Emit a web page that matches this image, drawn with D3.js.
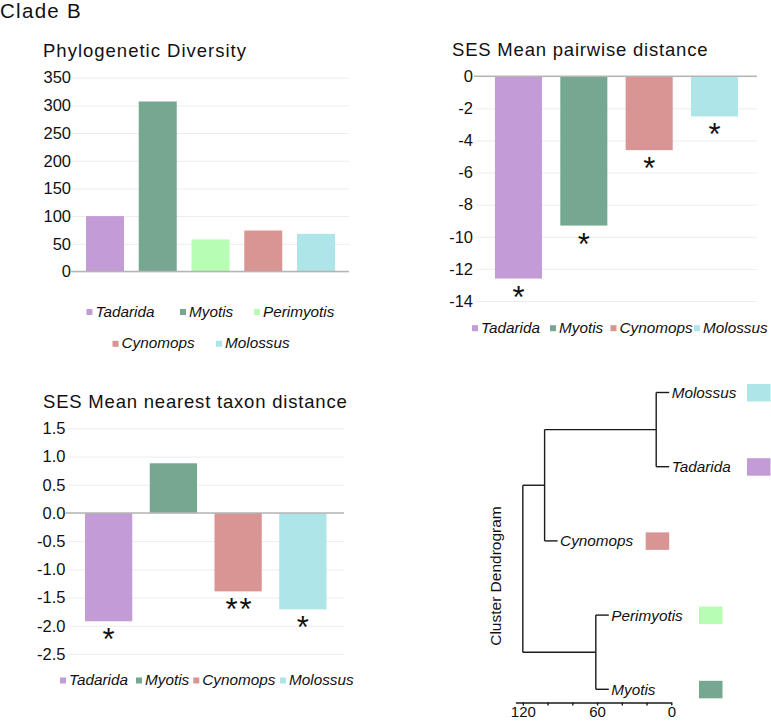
<!DOCTYPE html>
<html>
<head>
<meta charset="utf-8">
<script src="https://cdn.jsdelivr.net/npm/d3@7"></script>
<style>
  html, body { margin: 0; padding: 0; background: #fff; }
  svg { display: block; }
</style>
</head>
<body>
<svg id="chart" width="771" height="722"></svg>
<script>
// ---------------- DATA ----------------
const genera = ["Tadarida", "Myotis", "Perimyotis", "Cynomops", "Molossus"];
const generaColors = ["#c39bd6", "#76a891", "#b7fdb3", "#d99594", "#ade5e9"];

// Phylogenetic Diversity
const pdCategories = ["Tadarida", "Myotis", "Perimyotis", "Cynomops", "Molossus"];
const pdValues = [100, 307, 58, 74, 68];
const pdTicks = [0, 50, 100, 150, 200, 250, 300, 350];
const pdTickLabels = ["0", "50", "100", "150", "200", "250", "300", "350"];

// SES Mean pairwise distance
const mpdCategories = ["Tadarida", "Myotis", "Cynomops", "Molossus"];
const mpdValues = [-12.6, -9.3, -4.6, -2.5];
const mpdSig = ["*", "*", "*", "*"];
const mpdTicks = [0, -2, -4, -6, -8, -10, -12, -14];
const mpdTickLabels = ["0", "-2", "-4", "-6", "-8", "-10", "-12", "-14"];

// SES Mean nearest taxon distance
const mntdCategories = ["Tadarida", "Myotis", "Cynomops", "Molossus"];
const mntdValues = [-1.92, 0.88, -1.39, -1.71];
const mntdSig = ["*", "", "**", "*"];
const mntdTicks = [1.5, 1.0, 0.5, 0.0, -0.5, -1.0, -1.5, -2.0, -2.5];
const mntdTickLabels = ["1.5", "1.0", "0.5", "0.0", "-0.5", "-1.0", "-1.5", "-2.0", "-2.5"];

// Cluster dendrogram (merge table, like R's hclust)
const dendroLeaves = ["Molossus", "Tadarida", "Cynomops", "Perimyotis", "Myotis"];
const mergeLeft = ["Molossus", "Perimyotis", "n1", "n3"];
const mergeRight = ["Tadarida", "Myotis", "Cynomops", "n2"];
const mergeHeights = [12.2, 61, 102.4, 120];
const dendroTicks = [0, 20, 40, 60, 80, 100, 120];
const dendroTickLabels = ["0", "", "", "60", "", "", "120"];

// ---------------- DRAWING ----------------
const FONT = "'Liberation Sans', Arial, Helvetica, sans-serif";
const TXT = "#111";
const color = d3.scaleOrdinal().domain(genera).range(generaColors);
const svg = d3.select("#chart").style("font-family", FONT);

svg.append("text").attr("x", 0).attr("y", 17.5)
  .attr("font-size", 20.5).attr("letter-spacing", "1.3px").attr("fill", TXT)
  .text("Clade B");

function barChart(o) {
  const g = svg.append("g");
  const x = d3.scaleBand().domain(o.cats).range(o.xRange)
    .paddingInner(o.pi).paddingOuter(o.po);
  const y = d3.scaleLinear().domain(o.yDomain).range(o.yRange);

  g.append("text").attr("x", o.titleX).attr("y", o.titleY)
    .attr("font-size", 18.5).attr("letter-spacing", o.ls + "px").attr("fill", TXT)
    .text(o.title);

  const ax = g.append("g").attr("transform", `translate(${o.xRange[0]},0)`)
    .call(d3.axisLeft(y).tickValues(o.ticks)
      .tickFormat((d, i) => o.tickLabels[i])
      .tickSize(-(o.xRange[1] - o.xRange[0])).tickPadding(o.pad));
  ax.select(".domain").remove();
  ax.selectAll("line").attr("stroke", "#ececec").attr("stroke-width", 1);
  ax.selectAll("text").attr("font-size", 16.5).attr("fill", TXT)
    .attr("font-family", FONT);

  g.selectAll("rect.bar").data(o.vals).join("rect").attr("class", "bar")
    .attr("x", (d, i) => x(o.cats[i]))
    .attr("width", x.bandwidth())
    .attr("y", d => Math.min(y(d), y(0)))
    .attr("height", d => Math.abs(y(d) - y(0)))
    .attr("fill", (d, i) => color(o.cats[i]));

  g.append("line").attr("x1", o.xRange[0] - 2).attr("x2", o.xRange[1])
    .attr("y1", y(0)).attr("y2", y(0))
    .attr("stroke", "#b5b5b5").attr("stroke-width", 1.6);

  if (o.sig) {
    g.selectAll("text.sig").data(o.vals).join("text").attr("class", "sig")
      .attr("x", (d, i) => x(o.cats[i]) + x.bandwidth() / 2 + (o.sig[i].length > 1 ? 1.5 : 0))
      .attr("y", d => y(d) + 29)
      .attr("text-anchor", "middle").attr("font-size", 31)
      .attr("letter-spacing", (d, i) => o.sig[i].length > 1 ? "2px" : "0px")
      .attr("fill", "#111")
      .text((d, i) => o.sig[i]);
  }

  // legend
  o.legend.forEach(row => {
    row.items.forEach((name, j) => {
      const lx = row.xs[j];
      g.append("rect").attr("x", lx).attr("y", row.y - 7.5).attr("width", 6).attr("height", 6)
        .attr("fill", color(name));
      g.append("text").attr("x", lx + 9).attr("y", row.y)
        .attr("font-size", 15.3).attr("font-style", "italic").attr("fill", TXT)
        .text(name);
    });
  });
}

barChart({
  cats: pdCategories, vals: pdValues,
  xRange: [72, 349], pi: 0.28, po: 0.265,
  yDomain: [0, 350], yRange: [271.5, 77.7],
  ticks: pdTicks, tickLabels: pdTickLabels, pad: 1,
  title: "Phylogenetic Diversity", titleX: 43, titleY: 56.5, ls: 1.0,
  legend: [
    { y: 316.5, items: ["Tadarida", "Myotis", "Perimyotis"], xs: [86.5, 180, 254] },
    { y: 348.3, items: ["Cynomops", "Molossus"], xs: [112.5, 216] }
  ]
});

barChart({
  cats: mpdCategories, vals: mpdValues, sig: mpdSig,
  xRange: [476, 757], pi: 0.28, po: 0.29,
  yDomain: [-14, 0], yRange: [301, 76.3],
  ticks: mpdTicks, tickLabels: mpdTickLabels, pad: 3,
  title: "SES Mean pairwise distance", titleX: 452, titleY: 56, ls: 0.8,
  legend: [
    { y: 332.7, items: mpdCategories, xs: [472, 550, 610.5, 694] }
  ]
});

barChart({
  cats: mntdCategories, vals: mntdValues, sig: mntdSig,
  xRange: [67.5, 344], pi: 0.27, po: 0.27,
  yDomain: [-2.5, 1.5], yRange: [654, 428.3],
  ticks: mntdTicks, tickLabels: mntdTickLabels, pad: 2,
  title: "SES Mean nearest taxon distance", titleX: 43, titleY: 408, ls: 0.8,
  legend: [
    { y: 685, items: mntdCategories, xs: [60, 136, 193.3, 280] }
  ]
});

// ---------------- DENDROGRAM ----------------
(function () {
  const g = svg.append("g");
  const x = d3.scaleLinear().domain([0, 126]).range([671.3, 515.4]);
  const yLeaf = d3.scalePoint().domain(dendroLeaves).range([392.5, 689.3]);
  const hang = 10.5;
  const boxX = { "Molossus": 747, "Tadarida": 747, "Cynomops": 645.7, "Perimyotis": 699, "Myotis": 699 };

  const nodes = {};
  dendroLeaves.forEach(n => nodes[n] = { name: n, leaf: true, y: yLeaf(n) });
  mergeHeights.forEach((h, i) => {
    const a = nodes[mergeLeft[i]], b = nodes[mergeRight[i]];
    const id = "n" + (i + 1);
    nodes[id] = { name: id, leaf: false, h: h, y: (a.y + b.y) / 2, kids: [a, b] };
  });

  const lineStyle = s => s.attr("stroke", "#1a1a1a").attr("stroke-width", 1.4).attr("fill", "none");
  Object.values(nodes).filter(n => !n.leaf).forEach(n => {
    const px = x(n.h);
    g.append("line").attr("x1", px).attr("x2", px)
      .attr("y1", n.kids[0].y).attr("y2", n.kids[1].y).call(lineStyle);
    n.kids.forEach(k => {
      const kh = k.leaf ? n.h - hang : k.h;
      k.endX = x(kh);
      g.append("line").attr("x1", px).attr("x2", x(kh))
        .attr("y1", k.y).attr("y2", k.y).call(lineStyle);
    });
  });

  dendroLeaves.forEach(name => {
    const n = nodes[name];
    g.append("text").attr("x", n.endX + 2.5).attr("y", n.y + 5.5)
      .attr("font-size", 15.3).attr("font-style", "italic").attr("fill", TXT)
      .text(name);
    g.append("rect").attr("x", boxX[name]).attr("y", n.y - 8.5)
      .attr("width", 23.5).attr("height", 17.5).attr("fill", color(name));
  });

  const ax = g.append("g").attr("transform", "translate(0,702.5)")
    .call(d3.axisBottom(x).tickValues(dendroTicks)
      .tickFormat((d, i) => dendroTickLabels[i])
      .tickSize(3).tickSizeOuter(0).tickPadding(1));
  ax.selectAll("path,line").attr("stroke", "#1a1a1a").attr("stroke-width", 1.4);
  ax.selectAll("text").attr("font-size", 15).attr("fill", TXT).attr("font-family", FONT);

  g.append("text").attr("transform", "translate(500.5,576) rotate(-90)")
    .attr("text-anchor", "middle").attr("font-size", 15.5).attr("fill", TXT)
    .text("Cluster Dendrogram");
})();
</script>
</body>
</html>
